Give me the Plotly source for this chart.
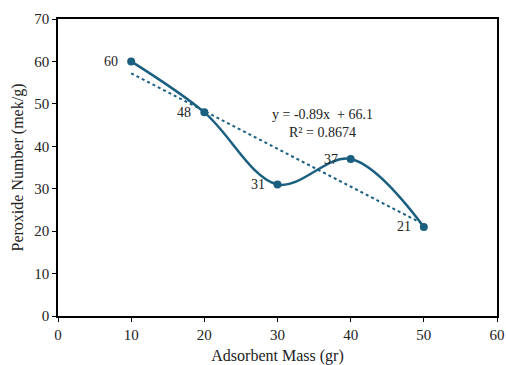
import plotly.graph_objects as go

mass = [10, 20, 30, 40, 50]
peroxide = [60, 48, 31, 37, 21]
slope = -0.89
intercept = 66.1
r2 = 0.8674
x_ticks = [0, 10, 20, 30, 40, 50, 60]
y_ticks = [0, 10, 20, 30, 40, 50, 60, 70]

color = "#1b5f80"
font = "Liberation Serif, Times New Roman, serif"

trend_x = [mass[0], mass[-1]]
trend_y = [slope * v + intercept for v in trend_x]

fig = go.Figure()
fig.add_trace(go.Scatter(x=trend_x, y=trend_y, mode="lines",
                         line=dict(color=color, width=2, dash="dot"),
                         hoverinfo="skip", showlegend=False))
fig.add_trace(go.Scatter(x=mass, y=peroxide, mode="lines+markers",
                         line=dict(color=color, width=2.5, shape="spline", smoothing=1.0),
                         marker=dict(color=color, size=8),
                         showlegend=False))

for xv, yv in zip(mass, peroxide):
    fig.add_annotation(x=xv, y=yv, text=str(yv), showarrow=False,
                       xanchor="right", yanchor="middle", xshift=-11,
                       font=dict(family=font, size=14, color="#222"))

fig.add_annotation(x=36.2, y=45.3,
                   text=f"y = {slope}x  + {intercept}<br>R² = {r2}",
                   showarrow=False, xanchor="center", yanchor="middle",
                   font=dict(family=font, size=14, color="#222"))

axis_common = dict(showline=True, linecolor="black", linewidth=1.5, mirror=True,
                   ticks="outside", ticklen=4, tickcolor="black", tickwidth=1,
                   showgrid=False, zeroline=False, automargin=False,
                   tickfont=dict(family=font, size=15, color="#222"))

fig.update_xaxes(range=[0, 60], tickvals=x_ticks, **axis_common,
                 title=dict(text="Adsorbent Mass (gr)", standoff=11,
                            font=dict(family=font, size=16, color="#222")))
fig.update_yaxes(range=[0, 70], tickvals=y_ticks, **axis_common,
                 title=dict(text="Peroxide Number (mek/g)", standoff=7,
                            font=dict(family=font, size=16, color="#222")))

fig.update_layout(width=506, height=365,
                  margin=dict(l=58, r=9, t=19, b=49),
                  plot_bgcolor="white", paper_bgcolor="white")

fig.write_html("out.html", config={"displayModeBar": False},
               post_script="document.body.style.margin='0';document.body.style.overflow='hidden';")
